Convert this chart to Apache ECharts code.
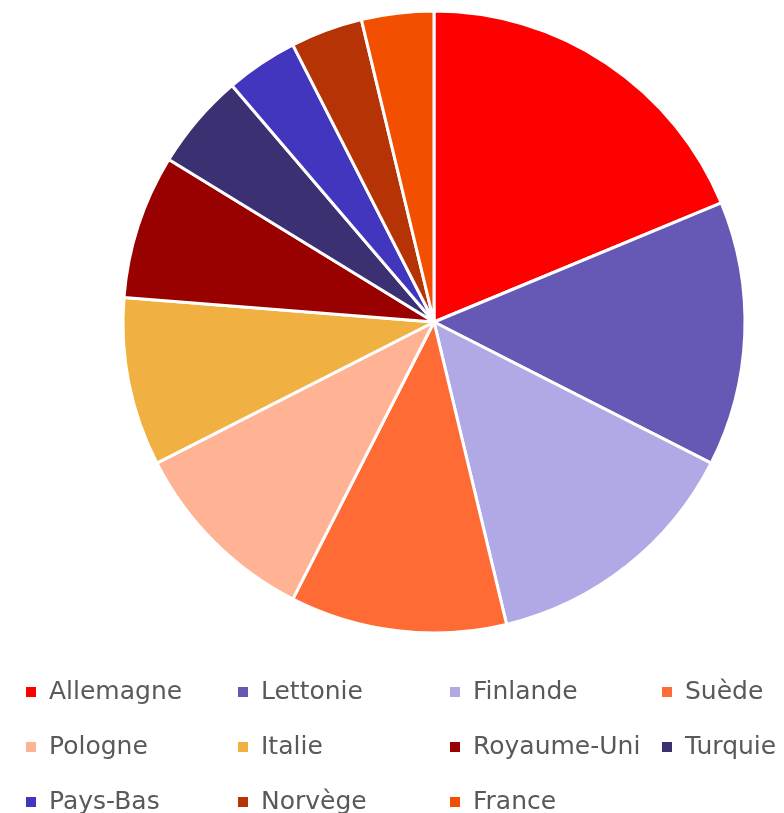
<!DOCTYPE html>
<html>
<head>
<meta charset="utf-8">
<script src="https://cdn.jsdelivr.net/npm/echarts@6/dist/echarts.min.js"></script>
<style>
html,body{margin:0;padding:0;background:#fff;}
#chart{width:784px;height:813px;}
</style>
</head>
<body>
<div id="chart"></div>
<script>
const categories = ["Allemagne","Lettonie","Finlande","Suède","Pologne","Italie","Royaume-Uni","Turquie","Pays-Bas","Norvège","France"];
const values = [15, 11, 11, 9, 8, 7, 6, 4, 3, 3, 3];
const colors = ["#FF0000","#6659B5","#B0A9E6","#FF6B35","#FFB394","#F0B142","#990000","#3B3172","#4336BE","#B53305","#F24F00"];

const rows = [categories.slice(0,4), categories.slice(4,8), categories.slice(8)];
const rowTops = [677, 732, 787];

const legends = rows.map((r, i) => ({
  data: r,
  orient: 'horizontal',
  left: 24,
  top: rowTops[i],
  width: 1000,
  padding: 0,
  itemWidth: 12,
  itemHeight: 12,
  itemGap: 17,
  icon: 'rect',
  selectedMode: false,
  textStyle: {
    fontFamily: 'DejaVu Sans',
    fontSize: 25,
    color: '#595959',
    width: 170,
    padding: [0, 0, 0, 7],
    lineHeight: 30
  }
}));

const chart = echarts.init(document.getElementById('chart'));
chart.setOption({
  animation: false,
  color: colors,
  legend: legends,
  series: [{
    type: 'pie',
    center: [434, 322],
    radius: [0, 311],
    startAngle: 90,
    clockwise: true,
    label: { show: false },
    labelLine: { show: false },
    emphasis: { disabled: true },
    itemStyle: { borderColor: '#ffffff', borderWidth: 3 },
    data: categories.map((c, i) => ({ name: c, value: values[i] }))
  }]
});
</script>
</body>
</html>
